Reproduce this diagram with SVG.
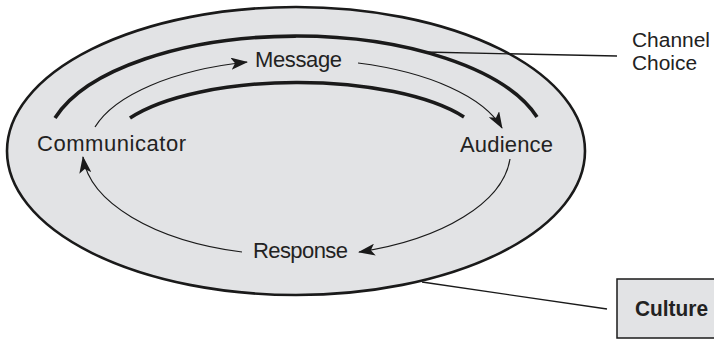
<svg xmlns="http://www.w3.org/2000/svg" width="714" height="339" viewBox="0 0 714 339">
<defs>
<style>
.lbl{font-family:"Liberation Sans",Arial,sans-serif;font-size:22px;fill:#222}
.side{font-family:"Liberation Sans",Arial,sans-serif;font-size:20px;fill:#222}
.thick{fill:none;stroke:#1a1a1a;stroke-width:3.6;stroke-linecap:butt}
.thin{fill:none;stroke:#1a1a1a;stroke-width:1.2}
.lead{fill:none;stroke:#1a1a1a;stroke-width:1.3}
</style>
<marker id="ah" markerWidth="17" markerHeight="12" viewBox="0 0 17 12" refX="16" refY="6" orient="auto" markerUnits="userSpaceOnUse">
<path d="M0,0 L17,6 L0,12 L4,6 Z" fill="#1a1a1a"/>
</marker>
</defs>
<rect width="714" height="339" fill="#ffffff"/>
<g id="culture-ellipse">
<ellipse cx="296" cy="151" rx="289" ry="144" fill="#e2e3e5" stroke="#1a1a1a" stroke-width="2.6"/>
</g>
<g id="channel-choice-arcs">
<path class="thick" d="M55,118 A251,113 0 0 1 537,117"/>
<path class="thick" d="M130,118 A190,67 0 0 1 464,117"/>
</g>
<g id="connectors">
<path class="thin" d="M95,127 A209,91 0 0 1 247,62" marker-end="url(#ah)"/>
<path class="thin" d="M358,63 A209,91 0 0 1 502,128" marker-end="url(#ah)"/>
<path class="thin" d="M510,159 A214,106 0 0 1 359,252" marker-end="url(#ah)"/>
<path class="thin" d="M242,252 A214,106 0 0 1 83,157" marker-end="url(#ah)"/>
<line class="lead" x1="424" y1="52" x2="617" y2="56"/>
<line class="lead" x1="422" y1="282" x2="607" y2="309"/>
</g>
<g id="communicator"><text class="lbl" x="37" y="151" textLength="149" lengthAdjust="spacing">Communicator</text></g>
<g id="message"><text class="lbl" x="255" y="67" textLength="87" lengthAdjust="spacing">Message</text></g>
<g id="audience"><text class="lbl" x="460" y="152" textLength="93" lengthAdjust="spacing">Audience</text></g>
<g id="response"><text class="lbl" x="253" y="258" textLength="95" lengthAdjust="spacing">Response</text></g>
<g id="channel-choice"><text class="side" x="632" y="47" textLength="78" lengthAdjust="spacingAndGlyphs">Channel</text><text class="side" x="632" y="70" textLength="65" lengthAdjust="spacingAndGlyphs">Choice</text></g>
<g id="culture">
<rect x="617" y="279" width="100" height="59" fill="#e2e3e5" stroke="#1a1a1a" stroke-width="1.5"/>
<text class="lbl" x="635" y="316" style="font-weight:bold" textLength="73" lengthAdjust="spacingAndGlyphs">Culture</text>
</g>
</svg>
